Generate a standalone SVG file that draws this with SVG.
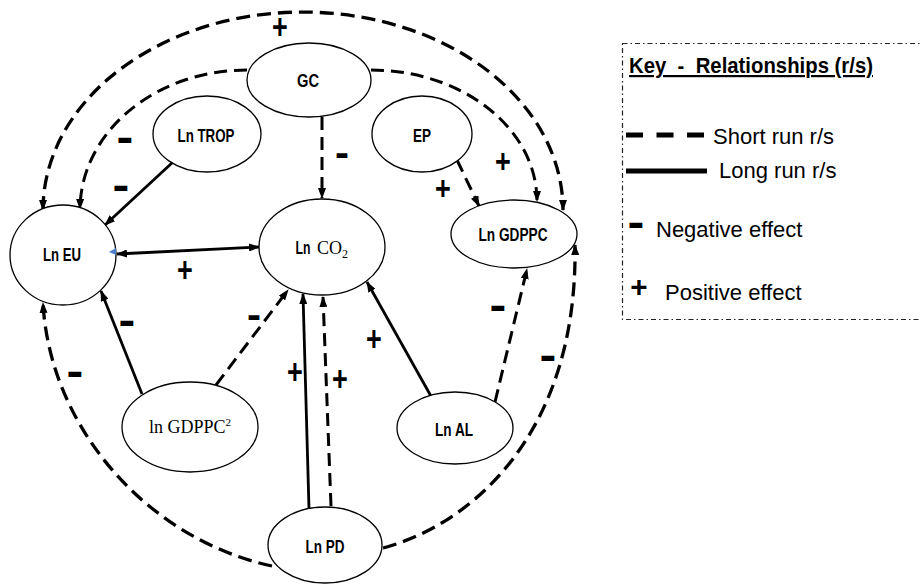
<svg xmlns="http://www.w3.org/2000/svg" width="921" height="584" viewBox="0 0 921 584">
<style>
.node{fill:#fff;stroke:#000;stroke-width:1.3}
.lbl{font-family:'Liberation Sans',Arial,sans-serif;font-weight:bold;font-size:18px;fill:#000;text-anchor:middle}
.serif{font-family:'Liberation Serif','Times New Roman',serif;font-weight:normal;font-size:18px;fill:#000}
.c{fill:none;stroke:#000}
.sol{stroke-width:2.8}
.dsh{stroke-width:3;stroke-dasharray:13 7}
.out{stroke-width:3.3;stroke-dasharray:14 7}
.sg{font-family:'Liberation Sans',Arial,sans-serif;font-weight:bold;font-size:27px;fill:#000;text-anchor:middle}
.mn{font-family:'Liberation Sans',Arial,sans-serif;font-weight:bold;font-size:28px;fill:#000;text-anchor:middle}
.key{font-family:'Liberation Sans',Arial,sans-serif;font-size:22px;fill:#000}
</style>
<defs>
<marker id="ah" viewBox="0 0 11 8" refX="10" refY="4" markerWidth="11" markerHeight="8" markerUnits="userSpaceOnUse" orient="auto-start-reverse">
<path d="M0,0 L11,4 L0,8 z" fill="#000"/>
</marker>
</defs>
<rect width="921" height="584" fill="#fff"/>

<g id="connectors">
<path class="c out" d="M 43 210 A 260 198 0 0 1 563 210" marker-start="url(#ah)" marker-end="url(#ah)"/>
<path class="c dsh" d="M 247 70 A 167 140 0 0 0 80 209" marker-end="url(#ah)"/>
<path class="c dsh" d="M 371 70 A 166 131 0 0 1 537 201" marker-end="url(#ah)"/>
<path class="c out" d="M 272 566 C 150 540 50 430 43 303" marker-end="url(#ah)"/>
<path class="c out" d="M 383 548 C 470 525 578 435 575 245" marker-end="url(#ah)"/>
<path class="c sol" d="M 173 162 L 105 225" marker-end="url(#ah)"/>
<path class="c sol" d="M 117 254 L 259 247" marker-start="url(#ah)" marker-end="url(#ah)"/>
<path class="c dsh" d="M 322 117 L 322 198" marker-end="url(#ah)"/>
<path class="c dsh" d="M 457 160 L 479 206" marker-end="url(#ah)"/>
<path class="c sol" d="M 142 394 L 101 291" marker-end="url(#ah)"/>
<path class="c dsh" d="M 216 385 L 288 290" marker-end="url(#ah)"/>
<path class="c sol" d="M 309 509 L 303 294" marker-end="url(#ah)"/>
<path class="c dsh" d="M 331 506 L 323 297" marker-end="url(#ah)"/>
<path class="c sol" d="M 432 398 L 367 282" marker-end="url(#ah)"/>
<path class="c dsh" d="M 495 402 L 527 269" marker-end="url(#ah)"/>
</g>

<g id="signs">
<text class="sg" transform="translate(280,27) scale(1,1.3)" y="9.4">+</text>
<text class="sg" transform="translate(503,161) scale(1,1.25)" y="9.4">+</text>
<text class="sg" transform="translate(443,188) scale(1,1.25)" y="9.4">+</text>
<text class="sg" transform="translate(185,270) scale(1,1.3)" y="9.4">+</text>
<text class="sg" transform="translate(374,339) scale(1,1.3)" y="9.4">+</text>
<text class="sg" transform="translate(295,372) scale(1,1.3)" y="9.4">+</text>
<text class="sg" transform="translate(340,379) scale(1,1.3)" y="9.4">+</text>
<text class="mn" transform="translate(125,139) scale(1.8,1.6)" y="8">-</text>
<text class="mn" transform="translate(121,187) scale(1.8,1.6)" y="8">-</text>
<text class="mn" transform="translate(342,155) scale(1.5,1.4)" y="8">-</text>
<text class="mn" transform="translate(127,322) scale(1.8,1.6)" y="8">-</text>
<text class="mn" transform="translate(254,317) scale(1.5,1.4)" y="8">-</text>
<text class="mn" transform="translate(75,373) scale(1.8,1.6)" y="8">-</text>
<text class="mn" transform="translate(498,307) scale(1.8,1.6)" y="8">-</text>
<text class="mn" transform="translate(548,357) scale(1.8,1.6)" y="8">-</text>
</g>

<g id="GC"><ellipse class="node" cx="309" cy="80" rx="62" ry="37"/><text class="lbl" x="308" y="87" textLength="22" lengthAdjust="spacingAndGlyphs">GC</text></g>
<g id="LnTROP"><ellipse class="node" cx="207" cy="134" rx="54" ry="38"/><text class="lbl" x="206" y="142" textLength="57" lengthAdjust="spacingAndGlyphs">Ln TROP</text></g>
<g id="EP"><ellipse class="node" cx="422" cy="134" rx="50" ry="38"/><text class="lbl" x="422" y="142" textLength="18" lengthAdjust="spacingAndGlyphs">EP</text></g>
<g id="LnGDPPC"><ellipse class="node" cx="514" cy="234" rx="63" ry="34"/><text class="lbl" x="513" y="241" textLength="69" lengthAdjust="spacingAndGlyphs">Ln GDPPC</text></g>
<g id="LnEU"><ellipse class="node" cx="63" cy="255" rx="53" ry="50"/><text class="lbl" x="62" y="261" textLength="38" lengthAdjust="spacingAndGlyphs">Ln EU</text><polygon points="109,252 116,248 116,255" fill="#4a7cc9"/></g>
<g id="LnCO2"><ellipse class="node" cx="322" cy="247" rx="63" ry="48"/><text class="lbl" x="303" y="254" textLength="15" lengthAdjust="spacingAndGlyphs">Ln</text><text class="serif" x="317" y="254">CO<tspan font-size="12" dy="4">2</tspan></text></g>
<g id="lnGDPPC2"><ellipse class="node" cx="190" cy="427" rx="68" ry="45"/><text class="serif" x="190" y="433" text-anchor="middle">ln GDPPC<tspan font-size="11" dy="-7">2</tspan></text></g>
<g id="LnPD"><ellipse class="node" cx="325" cy="545" rx="57" ry="38"/><text class="lbl" x="325" y="553" textLength="39" lengthAdjust="spacingAndGlyphs">Ln PD</text></g>
<g id="LnAL"><ellipse class="node" cx="455" cy="428" rx="58" ry="36"/><text class="lbl" x="454" y="436" textLength="38" lengthAdjust="spacingAndGlyphs">Ln AL</text></g>

<g id="key">
<rect x="622.5" y="43.5" width="310" height="276" fill="none" stroke="#222" stroke-width="1.2" stroke-dasharray="5 3 1.5 3"/>
<text class="key" x="629" y="73" font-weight="bold" font-size="20" text-decoration="underline" textLength="244" lengthAdjust="spacingAndGlyphs">Key&#160; -&#160; Relationships (r/s)</text>
<line x1="626" y1="135" x2="704" y2="135" stroke="#000" stroke-width="5" stroke-dasharray="17 13.5"/>
<text class="key" x="713" y="144">Short run r/s</text>
<line x1="626" y1="171" x2="707" y2="171" stroke="#000" stroke-width="5"/>
<text class="key" x="719" y="178">Long run r/s</text>
<text class="mn" transform="translate(636,224) scale(1.8,1.6)" y="8">-</text>
<text class="key" x="656" y="237">Negative effect</text>
<text class="sg" transform="translate(639,287) scale(1.1,1.1)" y="9.4">+</text>
<text class="key" x="665" y="300">Positive effect</text>
</g>
</svg>
